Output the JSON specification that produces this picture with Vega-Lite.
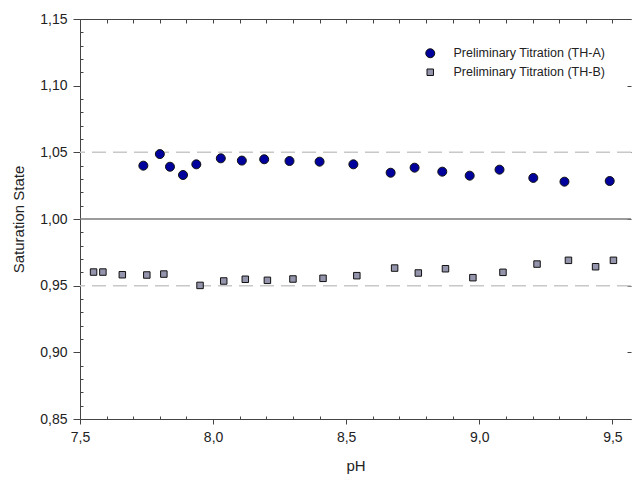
{
  "$schema": "https://vega.github.io/schema/vega-lite/v6.json",
  "width": 551,
  "height": 400,
  "autosize": {"type": "none"},
  "padding": {"left": 80, "top": 19, "right": 1, "bottom": 60},
  "background": "white",
  "config": {
    "view": {"stroke": null},
    "font": "Liberation Sans",
    "axis": {
      "grid": false,
      "domainColor": "#444444",
      "tickColor": "#444444",
      "labelColor": "#222222",
      "labelFont": "Liberation Sans",
      "labelFontSize": 14,
      "titleFont": "Liberation Sans",
      "titleFontSize": 15,
      "titleFontWeight": "normal",
      "titleColor": "#222222"
    }
  },
  "datasets": {
    "pts": [
      {"series": "Preliminary Titration (TH-A)", "pH": 7.738, "sat": 1.040},
      {"series": "Preliminary Titration (TH-A)", "pH": 7.800, "sat": 1.0487},
      {"series": "Preliminary Titration (TH-A)", "pH": 7.838, "sat": 1.0392},
      {"series": "Preliminary Titration (TH-A)", "pH": 7.887, "sat": 1.033},
      {"series": "Preliminary Titration (TH-A)", "pH": 7.937, "sat": 1.041},
      {"series": "Preliminary Titration (TH-A)", "pH": 8.029, "sat": 1.0455},
      {"series": "Preliminary Titration (TH-A)", "pH": 8.108, "sat": 1.0438},
      {"series": "Preliminary Titration (TH-A)", "pH": 8.192, "sat": 1.0448},
      {"series": "Preliminary Titration (TH-A)", "pH": 8.287, "sat": 1.0435},
      {"series": "Preliminary Titration (TH-A)", "pH": 8.400, "sat": 1.043},
      {"series": "Preliminary Titration (TH-A)", "pH": 8.527, "sat": 1.041},
      {"series": "Preliminary Titration (TH-A)", "pH": 8.667, "sat": 1.0347},
      {"series": "Preliminary Titration (TH-A)", "pH": 8.757, "sat": 1.0385},
      {"series": "Preliminary Titration (TH-A)", "pH": 8.861, "sat": 1.0355},
      {"series": "Preliminary Titration (TH-A)", "pH": 8.964, "sat": 1.0325},
      {"series": "Preliminary Titration (TH-A)", "pH": 9.076, "sat": 1.037},
      {"series": "Preliminary Titration (TH-A)", "pH": 9.203, "sat": 1.0308},
      {"series": "Preliminary Titration (TH-A)", "pH": 9.320, "sat": 1.028},
      {"series": "Preliminary Titration (TH-A)", "pH": 9.490, "sat": 1.0285},
      {"series": "Preliminary Titration (TH-B)", "pH": 7.551, "sat": 0.9602},
      {"series": "Preliminary Titration (TH-B)", "pH": 7.586, "sat": 0.9602},
      {"series": "Preliminary Titration (TH-B)", "pH": 7.659, "sat": 0.9582},
      {"series": "Preliminary Titration (TH-B)", "pH": 7.751, "sat": 0.958},
      {"series": "Preliminary Titration (TH-B)", "pH": 7.815, "sat": 0.9587},
      {"series": "Preliminary Titration (TH-B)", "pH": 7.951, "sat": 0.9502},
      {"series": "Preliminary Titration (TH-B)", "pH": 8.040, "sat": 0.9535},
      {"series": "Preliminary Titration (TH-B)", "pH": 8.121, "sat": 0.9548},
      {"series": "Preliminary Titration (TH-B)", "pH": 8.204, "sat": 0.954},
      {"series": "Preliminary Titration (TH-B)", "pH": 8.300, "sat": 0.955},
      {"series": "Preliminary Titration (TH-B)", "pH": 8.413, "sat": 0.9555},
      {"series": "Preliminary Titration (TH-B)", "pH": 8.540, "sat": 0.9575},
      {"series": "Preliminary Titration (TH-B)", "pH": 8.682, "sat": 0.9632},
      {"series": "Preliminary Titration (TH-B)", "pH": 8.771, "sat": 0.9595},
      {"series": "Preliminary Titration (TH-B)", "pH": 8.873, "sat": 0.9627},
      {"series": "Preliminary Titration (TH-B)", "pH": 8.976, "sat": 0.956},
      {"series": "Preliminary Titration (TH-B)", "pH": 9.089, "sat": 0.960},
      {"series": "Preliminary Titration (TH-B)", "pH": 9.217, "sat": 0.9662},
      {"series": "Preliminary Titration (TH-B)", "pH": 9.335, "sat": 0.969},
      {"series": "Preliminary Titration (TH-B)", "pH": 9.437, "sat": 0.9642},
      {"series": "Preliminary Titration (TH-B)", "pH": 9.504, "sat": 0.969}
    ]
  },
  "layer": [
    {
      "data": {"values": [{"ref": 1.05}, {"ref": 0.95}]},
      "mark": {"type": "rule", "color": "#c8c8c8", "strokeWidth": 1.5, "strokeDash": [14, 7]},
      "encoding": {
        "y": {"field": "ref", "type": "quantitative", "scale": {"domain": [0.85, 1.15], "nice": false, "zero": false}, "axis": null}
      }
    },
    {
      "data": {"values": [{"ref": 1.0}]},
      "mark": {"type": "rule", "color": "#7a7a7a", "strokeWidth": 1.5},
      "encoding": {
        "y": {"field": "ref", "type": "quantitative", "axis": null}
      }
    },
    {
      "data": {"name": "pts"},
      "mark": {"type": "point", "filled": true, "stroke": "#111111", "strokeWidth": 1, "opacity": 1},
      "encoding": {
        "x": {
          "field": "pH", "type": "quantitative",
          "scale": {"domain": [7.5, 9.57], "nice": false, "zero": false},
          "axis": {
            "orient": "bottom",
            "title": "pH",
            "titlePadding": 14,
            "values": [7.5,7.6,7.7,7.8,7.9,8.0,8.1,8.2,8.3,8.4,8.5,8.6,8.7,8.8,8.9,9.0,9.1,9.2,9.3,9.4,9.5],
            "labelExpr": "abs(datum.value*2 - round(datum.value*2)) < 0.0001 ? replace(format(datum.value, '.1f'), '.', ',') : ''",
            "tickSize": {"condition": {"test": "abs(datum.value*2 - round(datum.value*2)) < 0.0001", "value": 5}, "value": -3},
            "labelPadding": 6,
            "labelFlush": false,
            "labelOverlap": false
          }
        },
        "y": {
          "field": "sat", "type": "quantitative",
          "scale": {"domain": [0.85, 1.15], "nice": false, "zero": false},
          "axis": {
            "orient": "left",
            "title": "Saturation State",
            "titlePadding": 13,
            "values": [0.85,0.86,0.87,0.88,0.89,0.90,0.91,0.92,0.93,0.94,0.95,0.96,0.97,0.98,0.99,1.00,1.01,1.02,1.03,1.04,1.05,1.06,1.07,1.08,1.09,1.10,1.11,1.12,1.13,1.14,1.15],
            "labelExpr": "abs(datum.value*20 - round(datum.value*20)) < 0.0001 ? replace(format(datum.value, '.2f'), '.', ',') : ''",
            "tickSize": {"condition": {"test": "abs(datum.value*20 - round(datum.value*20)) < 0.0001", "value": 7}, "value": -3},
            "labelPadding": 6,
            "labelFlush": false,
            "labelOverlap": false
          }
        },
        "shape": {
          "field": "series", "type": "nominal",
          "scale": {"domain": ["Preliminary Titration (TH-A)", "Preliminary Titration (TH-B)"], "range": ["circle", "square"]},
          "legend": {
            "title": null,
            "orient": "none",
            "legendX": 344,
            "legendY": 28,
            "labelFont": "Liberation Sans",
            "labelFontSize": 12.5,
            "labelColor": "#222222",
            "labelOffset": 17,
            "rowPadding": 6,
            "symbolStrokeColor": "#111111",
            "symbolStrokeWidth": 1
          }
        },
        "fill": {
          "field": "series", "type": "nominal",
          "scale": {"domain": ["Preliminary Titration (TH-A)", "Preliminary Titration (TH-B)"], "range": ["#00009c", "#9494ac"]}
        },
        "size": {
          "field": "series", "type": "nominal",
          "scale": {"domain": ["Preliminary Titration (TH-A)", "Preliminary Titration (TH-B)"], "range": [81, 42]}
        }
      }
    },
    {
      "data": {"name": "pts"},
      "mark": {"type": "point", "opacity": 0},
      "encoding": {
        "x": {
          "field": "pH", "type": "quantitative",
          "axis": {
            "orient": "top",
            "title": null,
            "labels": false,
            "values": [7.5,7.6,7.7,7.8,7.9,8.0,8.1,8.2,8.3,8.4,8.5,8.6,8.7,8.8,8.9,9.0,9.1,9.2,9.3,9.4,9.5],
            "tickSize": -4
          }
        },
        "y": {
          "field": "sat", "type": "quantitative",
          "axis": {
            "orient": "right",
            "title": null,
            "labels": false,
            "domain": false,
            "values": [0.85,0.90,0.95,1.00,1.05,1.10,1.15],
            "tickSize": -4
          }
        }
      }
    }
  ],
  "resolve": {"axis": {"x": "independent", "y": "independent"}}
}
